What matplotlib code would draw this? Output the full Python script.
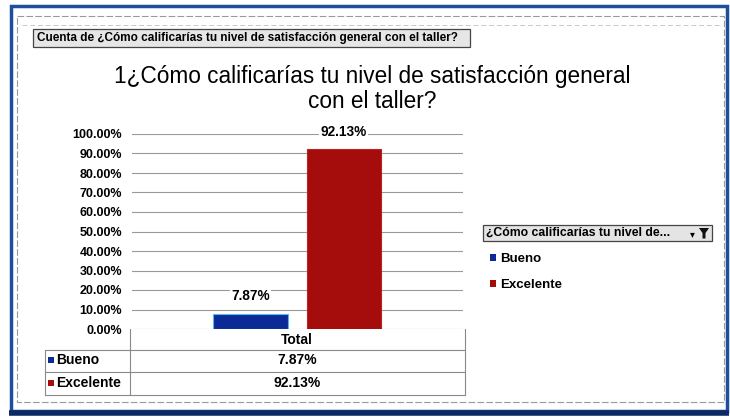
import numpy as np
import matplotlib
matplotlib.use("Agg")
import matplotlib.pyplot as plt
from matplotlib.patches import Rectangle, Polygon
from matplotlib.ticker import FuncFormatter, MultipleLocator

plt.rcParams['font.family'] = ['Liberation Sans', 'DejaVu Sans']

# data
categories = ['Bueno', 'Excelente']
values = [7.87, 92.13]
colors = ['#0b2a96', '#a50d0d']
column_label = 'Total'
title_lines = ['1¿Cómo calificarías tu nivel de satisfacción general', 'con el taller?']
field_button = 'Cuenta de ¿Cómo calificarías tu nivel de satisfacción general con el taller?'
filter_button = '¿Cómo calificarías tu nivel de...'

W, H = 730, 418
fig = plt.figure(figsize=(W / 100, H / 100), dpi=100)

# overlay in pixel coords for the frame, buttons and data table
ov = fig.add_axes([0, 0, 1, 1], zorder=0)
ov.set_xlim(0, W)
ov.set_ylim(H, 0)
ov.axis('off')

# main plot area
ax = fig.add_axes([132 / W, 1 - 329 / H, 331 / W, 195 / H], zorder=1)
ax.patch.set_alpha(0)

# ==========================================
# bars
# ==========================================
offsets = [-0.142, 0.140]
width = 0.224
for off, v, c in zip(offsets, values, colors):
    edge = '#5ab4f0' if c == colors[0] else '#c02020'
    ax.bar(off, v, width=width, color=c, edgecolor=edge, linewidth=0.8, zorder=3)
    ax.annotate(f'{v:.2f}%', xy=(off, v), xytext=(0, 12.5), textcoords='offset points',
                ha='center', va='center', fontsize=9.8, fontweight='bold',
                bbox=dict(facecolor='white', edgecolor='none', pad=1.0), zorder=4)

ax.set_xlim(-0.5, 0.5)
ax.set_ylim(0, 100)
ax.yaxis.set_major_locator(MultipleLocator(10))
ax.yaxis.set_major_formatter(FuncFormatter(lambda y, _: f'{y:.2f}%'))
ax.tick_params(axis='y', length=0, pad=7, labelsize=9)
for lab in ax.get_yticklabels():
    lab.set_fontweight('bold')
ax.set_xticks([])
ax.grid(axis='y', color='#999999', linewidth=0.8, zorder=0)
for s in ax.spines.values():
    s.set_visible(False)

# ==========================================
# frame + title
# ==========================================
ov.add_patch(Rectangle((11, 6), 716, 405, fill=False, edgecolor='#1d4f9c', linewidth=2.5))
ov.plot([9, 729], [413, 413], color='#0d2a66', linewidth=4, solid_capstyle='butt')
ov.add_patch(Rectangle((17, 16), 707, 386, fill=False, edgecolor='#9a9a9a',
                       linewidth=0.8, linestyle=(0, (6, 2))))
ov.plot([22, 720], [25, 25], color='#c8c8c8', linewidth=0.7, linestyle=(0, (5, 3)))

ov.text(372, 76, title_lines[0], ha='center', va='center', fontsize=16.3)
ov.text(372, 101, title_lines[1], ha='center', va='center', fontsize=16.3)

# field button
ov.add_patch(Rectangle((33, 29), 437, 18, facecolor='#e6e6e6', edgecolor='#444444', linewidth=0.9))
ov.text(37, 38.5, field_button, ha='left', va='center', fontsize=8.5, fontweight='bold')

# ==========================================
# data table
# ==========================================
tc = '#8a8a8a'
ov.plot([130, 130], [329, 395], color=tc, linewidth=0.8)
ov.plot([465, 465], [329, 395], color=tc, linewidth=0.8)
ov.plot([45, 45], [350, 395], color=tc, linewidth=0.8)
for yy in [350, 372, 395]:
    ov.plot([45, 465], [yy, yy], color=tc, linewidth=0.8)

ov.text(297, 340, column_label, ha='center', va='center', fontsize=10, fontweight='bold')
row_y = [360, 383]
for y, cat, v, c in zip(row_y, categories, values, colors):
    ov.add_patch(Rectangle((48, y - 3), 6, 6, facecolor=c, edgecolor='none'))
    ov.text(56, y, cat, ha='left', va='center', fontsize=10, fontweight='bold')
    ov.text(297, y, f'{v:.2f}%', ha='center', va='center', fontsize=10, fontweight='bold')

# ==========================================
# legend with filter button
# ==========================================
ov.add_patch(Rectangle((483, 225), 229, 16, facecolor='#e4e4e4', edgecolor='#444444', linewidth=0.9))
ov.text(486, 233, filter_button, ha='left', va='center', fontsize=8.8, fontweight='bold')
ov.text(692, 234, '▾', ha='center', va='center', fontsize=7, family='DejaVu Sans')
ov.add_patch(Polygon([[699, 228], [709, 228], [705.5, 233], [705.5, 238.5],
                      [702.5, 238.5], [702.5, 233]], closed=True, facecolor='#111111'))

handles = [Rectangle((0, 0), 1, 1, facecolor=c) for c in colors]
fig.legend(handles, categories, loc='upper left', bbox_to_anchor=(490 / W, 1 - 253 / H),
           frameon=False, handlelength=0.45, handleheight=0.45,
           handletextpad=0.3, labelspacing=1.05, borderpad=0, borderaxespad=0,
           prop=dict(weight='bold', size=9.5))

fig.savefig('out.png', dpi=100, facecolor='white')
